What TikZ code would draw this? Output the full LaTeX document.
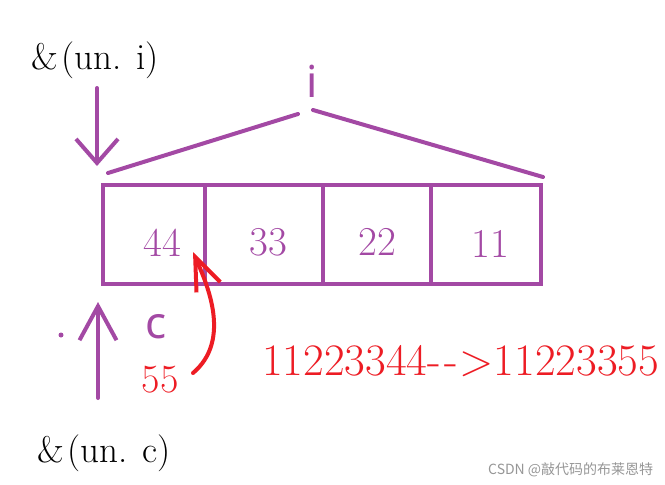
\documentclass[tikz,border=0pt]{standalone}
\usepackage{fontspec}
\usetikzlibrary{arrows.meta}
\newfontfamily\sansfam{Noto Sans}
\newfontfamily\cjk{Noto Sans CJK SC}
\definecolor{paintpurple}{RGB}{163,73,164}
\definecolor{paintred}{RGB}{237,28,36}
\definecolor{markgray}{RGB}{150,150,150}

\begin{document}
\begin{tikzpicture}[x=1pt,y=-1pt,
  cell/.style={draw=paintpurple, line width=4pt, minimum height=99pt, inner sep=0pt},
  stroke/.style={draw=paintpurple, line width=4pt, line cap=round, line join=round},
  redstroke/.style={draw=paintred, line width=4pt, line cap=round, line join=round},
  txt/.style={inner sep=0pt, anchor=base},
]
\useasboundingbox (0,0) rectangle (665,485);

% the four cells of un
\node[cell, minimum width=102pt] (cell1) at (154,234.5) {};
\node[cell, minimum width=118pt] (cell2) at (264,234.5) {};
\node[cell, minimum width=108pt] (cell3) at (377,234.5) {};
\node[cell, minimum width=110pt] (cell4) at (486,234.5) {};
\node[txt, text=paintpurple, font=\fontsize{41}{45}\selectfont] (v44) at (162,256) {44};
\node[txt, text=paintpurple, font=\fontsize{41}{45}\selectfont] (v33) at (268,255) {33};
\node[txt, text=paintpurple, font=\fontsize{41}{45}\selectfont] (v22) at (377,255) {22};
\node[txt, text=paintpurple, font=\fontsize{41}{45}\selectfont] (v11) at (490,257) {11};

% i spans the whole array
\node[txt, text=paintpurple, font=\sansfam\fontsize{44}{48}\selectfont] (namei) at (312,97) {i};
\coordinate (roofL) at (108,173);
\coordinate (roofTL) at (298,114);
\coordinate (roofTR) at (313,110);
\coordinate (roofR) at (543,177);
\draw[stroke] (roofL) -- (roofTL);
\draw[stroke] (roofTR) -- (roofR);

% address of un.i
\node[txt, anchor=base west, font=\fontsize{37}{40}\selectfont] (addri) at (31,69) {\&\hspace{4pt}(un.\ \hspace{3pt}i)};
\coordinate (topi) at (97,88);
\coordinate (tipi) at (97,166);
\draw[stroke, -{Straight Barb[length=24pt,width=42pt]}] (topi) -- (tipi);

% address of un.c
\node[txt, anchor=base west, font=\fontsize{37}{40}\selectfont] (addrc) at (37,462) {\&\hspace{4pt}(un.\ \hspace{3pt}c)};
\coordinate (botc) at (98,398);
\coordinate (tipc) at (98,302);
\draw[stroke, -{Straight Barb[length=34pt,width=37pt]}] (botc) -- (tipc);
\fill[paintpurple] (61,335) circle (2.5);
\node[txt, text=paintpurple, font=\sansfam\fontsize{44}{48}\selectfont] (namec) at (156,338) {c};

% c = 55 overwrites the low byte
\node[txt, text=paintred, font=\fontsize{40}{44}\selectfont] (v55) at (160,392) {55};
\coordinate (from55) at (193,373);
\coordinate (tip44) at (193,252);
\draw[redstroke, -{Straight Barb[length=33pt,width=26pt]}] (from55) .. controls (232,340) and (207,284) .. (tip44);
\node[txt, anchor=base west, text=paintred, font=\fontsize{45}{49}\selectfont] (change) at (262,375) {11223344-\kern3pt-\kern2pt>11223355};

\node[txt, anchor=base west, text=markgray, font=\cjk\fontsize{14}{16}\selectfont] (mark) at (488,474) {CSDN @敲代码的布莱恩特};

\end{tikzpicture}
\end{document}
